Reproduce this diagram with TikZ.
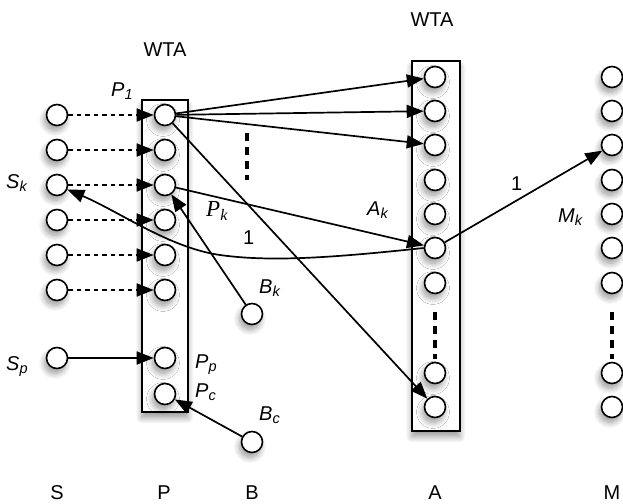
\documentclass[tikz,border=0pt]{standalone}
\usepackage{fontspec}
\setmainfont{Liberation Sans}
\newfontfamily\seriffont{Liberation Serif}
\usetikzlibrary{arrows.meta,shadows.blur}
\newcommand{\lsub}[1]{\raisebox{-3.5pt}{\fontsize{14.5}{16}\selectfont\itshape #1}}
\begin{document}
\begin{tikzpicture}[x=1pt,y=-1pt,
  neuron/.style={circle,draw,line width=1.6pt,fill=white,minimum size=21pt,inner sep=0pt,
    blur shadow={shadow xshift=-2pt,shadow yshift=-5pt,shadow blur steps=10,shadow blur radius=6pt,shadow opacity=40}},
  layer/.style={draw,line width=1.6pt,fill=white,
    blur shadow={shadow xshift=0pt,shadow yshift=-6pt,shadow blur steps=10,shadow blur radius=6pt,shadow opacity=40}},
  conn/.style={line width=1.7pt,-{Triangle[length=17pt,width=13pt]}},
  dconn/.style={conn,dash pattern=on 4.5pt off 4pt},
  lab/.style={font=\fontsize{20}{22}\selectfont},
  ilab/.style={font=\fontsize{20}{22}\selectfont\itshape,anchor=base west,inner sep=0pt},
  dotsv/.style={line width=3.8pt,dash pattern=on 8pt off 6pt}
]
\useasboundingbox (0,0) rectangle (623,503);
% layers
\node[layer,minimum width=46pt,minimum height=312pt,anchor=north west] (Prect) at (141,99) {};
\node[layer,minimum width=48pt,minimum height=370pt,anchor=north west] (Arect) at (411,60) {};
% S column
\foreach \i/\y in {1/115,2/150,3/185,4/220,5/255,6/290,p/358}
  \node[neuron] (S\i) at (57,\y) {};
% P column
\foreach \i/\y in {1/115,2/150,3/185,4/220,5/255,6/290,p/358,c/394}
  \node[neuron] (P\i) at (165,\y) {};
% B
\node[neuron] (Bk) at (252,314) {};
\node[neuron] (Bc) at (252,442) {};
% A column
\foreach \i/\y in {1/77,2/111,3/145,4/180,5/214,k/248,7/283,8/373,9/407}
  \node[neuron] (A\i) at (435,\y) {};
% M column
\foreach \i/\y in {1/77,2/111,3/145,4/180,5/214,6/248,7/283,8/373,9/407}
  \node[neuron] (M\i) at (612,\y) {};
% dots
\coordinate (d1a) at (247,133); \coordinate (d1b) at (247,180);
\draw[dotsv] (d1a) -- (d1b);
\coordinate (d2a) at (435,312); \coordinate (d2b) at (435,359);
\draw[dotsv] (d2a) -- (d2b);
\coordinate (d3a) at (612,312); \coordinate (d3b) at (612,359);
\draw[dotsv] (d3a) -- (d3b);
% S -> P
\foreach \i in {1,...,6}
  \draw[dconn] (S\i) -- (P\i);
\draw[conn] (Sp) -- (Pp);
% P1 -> A
\draw[conn] (P1) -- (A1);
\draw[conn] (P1) -- (A2);
\draw[conn] (P1) -- (A3);
\draw[conn] (P1) -- (A9);
% Pk -> Ak
\draw[conn] (P3) -- (Ak);
% Ak -> Sk curve
\draw[conn] (Ak.west) .. controls (330,258) and (270,262) .. (220,255) .. controls (170,248) and (120,212) .. (S3);
% B -> P
\draw[conn] (Bk) -- (P3);
\draw[conn] (Bc) -- (Pc);
% Ak -> M3
\draw[conn] (Ak) -- (M3);
% labels
\node[lab] (wta1) at (165,50) {WTA};
\node[lab] (wta2) at (432,20) {WTA};
\node[ilab] (lP1) at (111,96) {P\lsub{1}};
\node[ilab] (lSk) at (6,188) {S\lsub{k}};
\node[ilab] (lSp) at (6,370) {S\lsub{p}};
\node[font=\fontsize{23}{25}\selectfont\seriffont\itshape,anchor=base west,inner sep=0pt] (lPk) at (206,216) {P\raisebox{-4pt}{\fontsize{16}{18}\selectfont k}};
\node[ilab] (lBk) at (259,293) {B\lsub{k}};
\node[ilab] (lBc) at (259,420) {B\lsub{c}};
\node[ilab] (lPp) at (195,368) {P\lsub{p}};
\node[ilab] (lPc) at (195,397) {P\lsub{c}};
\node[ilab] (lAk) at (367,215) {A\lsub{k}};
\node[ilab] (lMk) at (558,222) {M\lsub{k}};
\node[lab,anchor=base west,inner sep=0pt] (one1) at (511,190) {1};
\node[lab,anchor=base west,inner sep=0pt] (one2) at (243,244) {1};
\node[lab,anchor=base,inner sep=0pt] (cS) at (57,499) {S};
\node[lab,anchor=base,inner sep=0pt] (cP) at (164,499) {P};
\node[lab,anchor=base,inner sep=0pt] (cB) at (252,499) {B};
\node[lab,anchor=base,inner sep=0pt] (cA) at (435,499) {A};
\node[lab,anchor=base,inner sep=0pt] (cM) at (612,499) {M};
\end{tikzpicture}
\end{document}
